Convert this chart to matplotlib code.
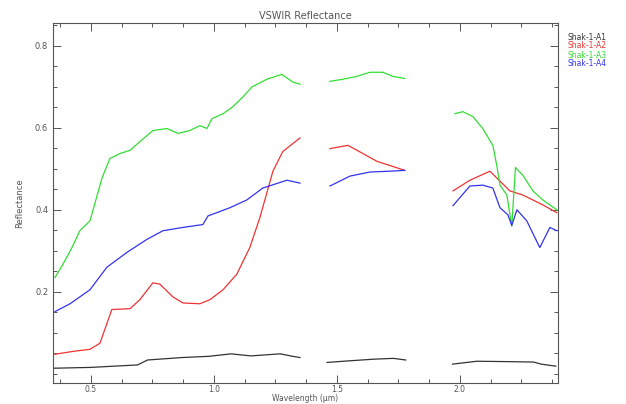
'''
VSWIR reflectance spectra for four samples, drawn in an IDL-like style
'''
import matplotlib
matplotlib.use('Agg')
import matplotlib.pyplot as plt
from matplotlib.ticker import MultipleLocator, FixedLocator

labels = ['Shak-1-A1', 'Shak-1-A2', 'Shak-1-A3', 'Shak-1-A4']
colors = ['#333333', '#ee3333', '#33dd33', '#3333ee']

# each spectrum is split in three pieces around the water bands
black_wl = [[0.35, 0.50, 0.69, 0.73, 0.87, 0.98, 1.07, 1.15, 1.27, 1.32, 1.35],
            [1.46, 1.55, 1.65, 1.73, 1.78],
            [1.97, 2.07, 2.20, 2.30, 2.33, 2.39]]
black_r = [[0.014, 0.016, 0.022, 0.034, 0.040, 0.043, 0.049, 0.044, 0.049, 0.043, 0.040],
           [0.028, 0.032, 0.036, 0.038, 0.034],
           [0.024, 0.031, 0.030, 0.029, 0.024, 0.019]]

red_wl = [[0.354, 0.427, 0.496, 0.537, 0.585, 0.659, 0.699, 0.752, 0.780, 0.833,
           0.874, 0.943, 0.984, 1.037, 1.093, 1.146, 1.187, 1.240, 1.280, 1.350],
          [1.472, 1.545, 1.606, 1.663, 1.715, 1.776],
          [1.972, 2.041, 2.122, 2.163, 2.203, 2.256, 2.337, 2.394]]
red_r = [[0.048, 0.055, 0.060, 0.075, 0.157, 0.159, 0.181, 0.222, 0.219, 0.188,
          0.173, 0.171, 0.181, 0.205, 0.243, 0.308, 0.381, 0.494, 0.542, 0.575],
         [0.549, 0.557, 0.537, 0.518, 0.508, 0.496],
         [0.446, 0.472, 0.494, 0.470, 0.446, 0.436, 0.412, 0.393]]

green_wl = [[0.354, 0.386, 0.423, 0.455, 0.496, 0.508, 0.545, 0.577, 0.618, 0.659,
             0.699, 0.752, 0.809, 0.854, 0.902, 0.943, 0.972, 0.992, 1.037, 1.077,
             1.118, 1.154, 1.215, 1.276, 1.321, 1.350],
            [1.472, 1.524, 1.581, 1.634, 1.687, 1.728, 1.776],
            [1.980, 2.012, 2.053, 2.093, 2.134, 2.150, 2.163, 2.191, 2.211, 2.226,
             2.256, 2.297, 2.337, 2.394]]
green_r = [[0.235, 0.267, 0.308, 0.349, 0.373, 0.398, 0.477, 0.525, 0.537, 0.545,
            0.566, 0.593, 0.598, 0.586, 0.593, 0.605, 0.598, 0.622, 0.634, 0.651,
            0.675, 0.699, 0.718, 0.730, 0.711, 0.706],
           [0.713, 0.718, 0.725, 0.735, 0.735, 0.725, 0.720],
           [0.634, 0.639, 0.627, 0.598, 0.557, 0.508, 0.460, 0.436, 0.360, 0.503,
            0.484, 0.446, 0.424, 0.400]]

blue_wl = [[0.354, 0.415, 0.496, 0.565, 0.646, 0.728, 0.793, 0.874, 0.955, 0.976,
            1.065, 1.134, 1.199, 1.297, 1.350],
           [1.472, 1.553, 1.634, 1.715, 1.776],
           [1.972, 2.041, 2.093, 2.134, 2.163, 2.195, 2.211, 2.232, 2.272, 2.325,
            2.366, 2.394]]
blue_r = [[0.152, 0.171, 0.205, 0.260, 0.296, 0.328, 0.349, 0.357, 0.364, 0.385,
           0.405, 0.424, 0.453, 0.472, 0.465],
          [0.458, 0.482, 0.492, 0.494, 0.496],
          [0.410, 0.458, 0.460, 0.453, 0.405, 0.388, 0.362, 0.400, 0.373, 0.308,
           0.357, 0.349]]

spectra = [(black_wl, black_r), (red_wl, red_r), (green_wl, green_r), (blue_wl, blue_r)]

text_color = '#555555'
plt.rcParams['font.family'] = 'DejaVu Sans'

fig = plt.figure(figsize=(6.26, 4.04), dpi=100)
ax = fig.add_axes([0.0847, 0.052, 0.8063, 0.891])

for (wl_parts, r_parts), color in zip(spectra, colors):
    for wl, r in zip(wl_parts, r_parts):
        ax.plot(wl, r, color=color, linewidth=0.9)

ax.set_xlim(0.346, 2.398)
ax.set_ylim(-0.022, 0.855)

# IDL style: ticks inside on all four sides
ax.xaxis.set_major_locator(FixedLocator([0.5, 1.0, 1.5, 2.0]))
ax.xaxis.set_minor_locator(MultipleLocator(0.125))
ax.yaxis.set_major_locator(FixedLocator([0.2, 0.4, 0.6, 0.8]))
ax.yaxis.set_minor_locator(MultipleLocator(0.05))
ax.tick_params(which='both', direction='in', top=True, right=True,
               colors=text_color, labelsize=6, width=0.7)
ax.tick_params(which='major', length=6)
ax.tick_params(axis='x', which='major', pad=1.5, labelsize=5.5)
ax.tick_params(which='minor', length=3)
for spine in ax.spines.values():
    spine.set_color(text_color)
    spine.set_linewidth(0.8)

ax.set_title('VSWIR Reflectance', fontsize=7, color=text_color, pad=3)
ax.set_ylabel('Reflectance', fontsize=6, color=text_color, labelpad=8)
# x label sits right at the bottom edge, kept just inside the figure
fig.text(305 / 626, 1 / 404, 'Wavelength (\u03bcm)', fontsize=5.5,
         color=text_color, ha='center', va='bottom')

# legend as coloured text to the right of the plot
for i, (label, color) in enumerate(zip(labels, colors)):
    fig.text(567 / 626, 1 - (37 + 9 * i) / 404, label, color=color,
             fontsize=5.5, va='center', ha='left')

fig.savefig('out.png', dpi=100)
